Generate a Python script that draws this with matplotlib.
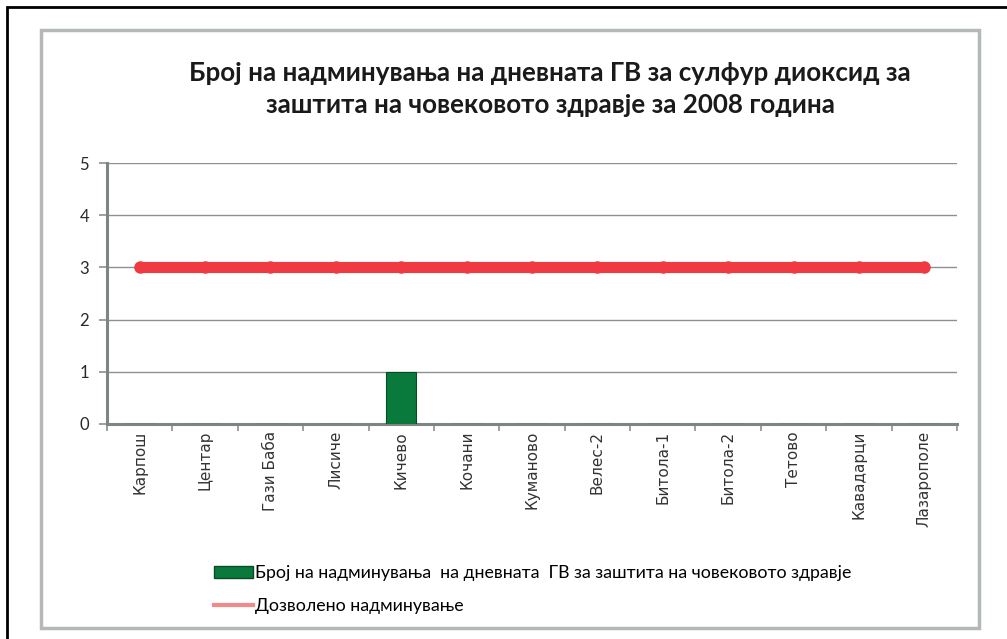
import numpy as np
import matplotlib.pyplot as plt
from matplotlib.patches import Rectangle
from matplotlib.lines import Line2D

plt.rcParams['font.family'] = ['DejaVu Sans']

# stations and counts of exceedances (2008)
stations = ['Карпош', 'Центар', 'Гази Баба', 'Лисиче', 'Кичево', 'Кочани',
            'Куманово', 'Велес-2', 'Битола-1', 'Битола-2', 'Тетово',
            'Кавадарци', 'Лазарополе']
exceedances = [0, 0, 0, 0, 1, 0, 0, 0, 0, 0, 0, 0, 0]
allowed = [3] * 13

title = ('Број на надминувања на дневната ГВ за сулфур диоксид за\n'
         'заштита на човековото здравје за 2008 година')
bar_label = 'Број на надминувања  на дневната  ГВ за заштита на човековото здравје'
line_label = 'Дозволено надминување'

W, H = 1007, 639
fig = plt.figure(figsize=(W / 100, H / 100), dpi=100)

def fx(px):
    return px / W

def fy(py):
    return 1 - py / H

# outer black border and grey chart frame
fig.add_artist(Rectangle((fx(7), fy(640)), fx(1010) - fx(7), fy(7) - fy(640),
                         transform=fig.transFigure, fill=False,
                         edgecolor='black', linewidth=2))
fig.add_artist(Rectangle((fx(41), fy(628)), fx(979) - fx(41), fy(30) - fy(628),
                         transform=fig.transFigure, fill=False,
                         edgecolor='#b4b8b8', linewidth=2.5))

ax = fig.add_axes([fx(107), fy(424), fx(957) - fx(107), fy(163) - fy(424)])
x = np.arange(len(stations))

ax.bar(x, exceedances, width=0.46, color='#0a7a3c', edgecolor='#064d26',
       linewidth=0.8, zorder=3)
ax.plot(x, allowed, color='#ee3a40', linewidth=8, solid_capstyle='round',
        marker='o', markersize=9, markeredgewidth=0, zorder=4)

ax.set_xlim(-0.5, len(stations) - 0.5)
ax.set_ylim(0, 5)
ax.set_yticks(range(6))
ax.yaxis.grid(True, color='#8c9090', linewidth=1, zorder=0)
ax.set_axisbelow(True)

ax.set_xticks(x)
ax.set_xticklabels(stations, rotation=90, fontsize=11, va='top',
                   color='#333333')
ax.set_xticks(np.arange(len(stations) + 1) - 0.5, minor=True)
ax.tick_params(axis='x', which='major', length=0, pad=5)
ax.tick_params(axis='x', which='minor', length=5, width=1.2, color='#8c9090',
               direction='out')
ax.tick_params(axis='y', length=6, width=1.2, color='#8c9090', pad=7)
for lbl in ax.get_yticklabels():
    lbl.set_family(['Lato', 'DejaVu Sans'])
    lbl.set_fontsize(12)
    lbl.set_color('#2a2a2a')

for side in ['top', 'right']:
    ax.spines[side].set_visible(False)
for side in ['left', 'bottom']:
    ax.spines[side].set_color('#7f8585')
    ax.spines[side].set_linewidth(2.2)

fig.text(fx(550), fy(89), title, ha='center', va='center', fontsize=18.7,
         fontweight='bold', family=['Lato', 'DejaVu Sans'],
         linespacing=1.4, color='#1a1a1a')

handles = [Rectangle((0, 0), 1, 1, facecolor='#0a7a3c', edgecolor='#064d26'),
           Line2D([], [], color='#f38a8a', linewidth=3)]
fig.legend(handles, [bar_label, line_label], loc='upper left',
           bbox_to_anchor=(fx(198), fy(549)), frameon=False,
           prop={'family': ['Lato', 'DejaVu Sans'], 'size': 12.8},
           handlelength=2.2, handleheight=0.7, handletextpad=0.1,
           labelspacing=0.95)

fig.savefig('out.png', dpi=100)
